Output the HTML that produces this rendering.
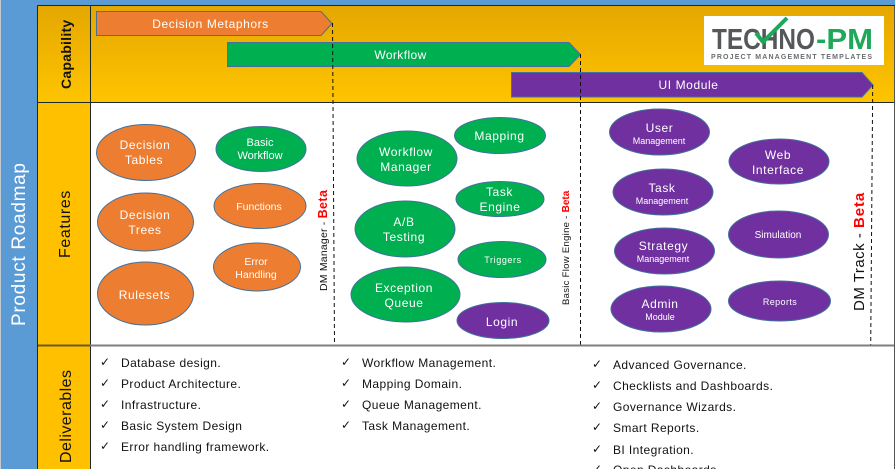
<!DOCTYPE html>
<html><head><meta charset="utf-8"><style>
html,body{margin:0;padding:0;background:#fff;width:895px;height:469px;overflow:hidden}
svg{display:block}
text{font-family:"Liberation Sans",sans-serif}
.w{fill:#fff;text-anchor:middle}
.e{stroke:#41719c;stroke-width:1}
.o{fill:#ed7d31}.g{fill:#00b050}.p{fill:#7030a0}
.l{font-size:12px;letter-spacing:.42px;fill:#111}
.c{font-size:12px;fill:#111}
.d{stroke:#111;stroke-width:1;stroke-dasharray:4 3;fill:none}
</style></head><body>
<svg width="895" height="469" viewBox="0 0 895 469" xmlns="http://www.w3.org/2000/svg">
<defs><linearGradient id="cap" x1="0" y1="0" x2="0" y2="1"><stop offset="0" stop-color="#e4a700"/><stop offset="1" stop-color="#ffc400"/></linearGradient></defs>
<rect width="895" height="469" fill="#fff"/>
<rect x="0" y="0" width="895" height="5" fill="#5b9bd5"/>
<rect x="1" y="0" width="36.500" height="469" fill="#5b9bd5"/>
<rect x="0" y="0" width="1" height="469" fill="#c0c8d0"/>
<rect x="38" y="6" width="857" height="97" fill="url(#cap)"/>
<rect x="38" y="103" width="52" height="366" fill="#ffc000"/>
<path d="M96.500 11.500H321L332 23.500L321 35.500H96.500Z" class="o e"/>
<path d="M227.500 42.500H569L580.500 54.500L569 66.500H227.500Z" class="g e"/>
<path d="M511.500 72.500H862L873 85L862 97H511.500Z" class="p e"/>
<path d="M332.500 23L334.500 343" class="d"/>
<path d="M580.500 54V345" class="d"/>
<path d="M872.700 85L870.700 345" class="d"/>
<path d="M37.500 5.500H895M37.500 5.500V469M90.500 5.500V469M37.500 102.500H895" stroke="#1e2a2a" stroke-width="1" fill="none"/>
<path d="M38 345.500H90" stroke="#6b5a20" stroke-width="2"/>
<path d="M90 345.500H895" stroke="#7f7f7f" stroke-width="2"/>
<path d="M894.500 6V469" stroke="#555" stroke-width="1"/>
<rect x="704" y="16" width="180" height="49" fill="#fff"/>
<text x="712" y="49" font-size="29" font-weight="bold" fill="#55585a" textLength="103" lengthAdjust="spacingAndGlyphs">TECHNO</text>
<text x="816" y="49" font-size="29" font-weight="bold" fill="#1fa85a" textLength="57" lengthAdjust="spacingAndGlyphs">-PM</text>
<text x="711" y="59" font-size="7" font-weight="bold" fill="#6a6d6f" textLength="161" lengthAdjust="spacing">PROJECT MANAGEMENT TEMPLATES</text>
<path d="M756 33L763 42L787 18" stroke="#1fa85a" stroke-width="4" fill="none"/>
<text class="w" x="210.500" y="28" font-size="12" letter-spacing=".58">Decision Metaphors</text>
<text class="w" x="400.500" y="59" font-size="12" letter-spacing=".4">Workflow</text>
<text class="w" x="688.500" y="89" font-size="12" letter-spacing=".6">UI Module</text>
<text transform="translate(71 89) rotate(-90)" font-size="14" font-weight="bold" fill="#111" letter-spacing=".25">Capability</text>
<text transform="translate(70 258) rotate(-90)" font-size="16" fill="#111" letter-spacing=".6">Features</text>
<text transform="translate(71 463) rotate(-90)" font-size="16" fill="#111" letter-spacing=".45">Deliverables</text>
<text transform="translate(25 326) rotate(-90)" font-size="19" fill="#fff" letter-spacing=".7">Product Roadmap</text>
<ellipse cx="146" cy="152.500" rx="49.500" ry="28" class="o e"/>
<text class="w" x="145" y="149" font-size="12" letter-spacing=".6">Decision</text><text class="w" x="144" y="164" font-size="12" letter-spacing=".6">Tables</text>
<ellipse cx="145.500" cy="222" rx="48" ry="29" class="o e"/>
<text class="w" x="145" y="219" font-size="12" letter-spacing=".6">Decision</text><text class="w" x="145" y="234" font-size="12" letter-spacing=".6">Trees</text>
<ellipse cx="145.500" cy="293.500" rx="48" ry="31.500" class="o e"/>
<text class="w" x="144.500" y="299" font-size="12" letter-spacing=".6">Rulesets</text>
<ellipse cx="261" cy="149" rx="45" ry="22.500" class="g e"/>
<text class="w" x="260" y="146" font-size="11">Basic</text><text class="w" x="260" y="159" font-size="11">Workflow</text>
<ellipse cx="260" cy="206" rx="46" ry="22.500" class="o e"/>
<text class="w" x="259" y="210" font-size="10.500">Functions</text>
<ellipse cx="257" cy="267" rx="43.500" ry="24" class="o e"/>
<text class="w" x="256" y="265" font-size="10.500">Error</text><text class="w" x="256" y="278" font-size="10.500">Handling</text>
<ellipse cx="407" cy="158.500" rx="50" ry="27.500" class="g e"/>
<text class="w" x="406" y="156" font-size="12" letter-spacing=".6">Workflow</text><text class="w" x="406" y="171" font-size="12" letter-spacing=".6">Manager</text>
<ellipse cx="405" cy="229" rx="50" ry="28" class="g e"/>
<text class="w" x="404" y="226" font-size="12" letter-spacing=".6">A/B</text><text class="w" x="404" y="241" font-size="12" letter-spacing=".6">Testing</text>
<ellipse cx="405.500" cy="294.500" rx="54.500" ry="27.500" class="g e"/>
<text class="w" x="404" y="292" font-size="12" letter-spacing=".6">Exception</text><text class="w" x="404" y="307" font-size="12" letter-spacing=".6">Queue</text>
<ellipse cx="500" cy="135.500" rx="45.500" ry="18" class="g e"/>
<text class="w" x="499.500" y="140" font-size="12" letter-spacing=".6">Mapping</text>
<ellipse cx="500" cy="199" rx="44" ry="17.500" class="g e"/>
<text class="w" x="499.500" y="196" font-size="12" letter-spacing=".6">Task</text><text class="w" x="500" y="211" font-size="12" letter-spacing=".6">Engine</text>
<ellipse cx="502" cy="259.500" rx="44" ry="18" class="g e"/>
<text class="w" x="503" y="263" font-size="9" letter-spacing=".6">Triggers</text>
<ellipse cx="503" cy="320.500" rx="46" ry="18" class="p e"/>
<text class="w" x="502" y="326" font-size="12" letter-spacing=".6">Login</text>
<ellipse cx="659.500" cy="132" rx="50" ry="23" class="p e"/>
<text class="w" x="659.500" y="132" font-size="12" letter-spacing=".6">User</text><text class="w" x="659" y="144" font-size="9">Management</text>
<ellipse cx="663" cy="192" rx="50" ry="23" class="p e"/>
<text class="w" x="662" y="192" font-size="12" letter-spacing=".6">Task</text><text class="w" x="662" y="204" font-size="9">Management</text>
<ellipse cx="664.500" cy="251" rx="50" ry="23" class="p e"/>
<text class="w" x="663.500" y="250" font-size="12" letter-spacing=".6">Strategy</text><text class="w" x="663" y="262" font-size="9">Management</text>
<ellipse cx="661" cy="309" rx="50" ry="23" class="p e"/>
<text class="w" x="660" y="308" font-size="12" letter-spacing=".6">Admin</text><text class="w" x="660" y="320" font-size="9">Module</text>
<ellipse cx="779" cy="161.500" rx="50" ry="22.500" class="p e"/>
<text class="w" x="778" y="159" font-size="12" letter-spacing=".6">Web</text><text class="w" x="778" y="174" font-size="12" letter-spacing=".6">Interface</text>
<ellipse cx="778.500" cy="234.500" rx="50" ry="23.500" class="p e"/>
<text class="w" x="778" y="238" font-size="10">Simulation</text>
<ellipse cx="779.500" cy="301" rx="51" ry="20" class="p e"/>
<text class="w" x="780" y="305" font-size="9" letter-spacing=".4">Reports</text>
<text transform="translate(327 291) rotate(-90)" font-size="10.500" fill="#111" letter-spacing=".2">DM Manager - <tspan fill="#f00" font-weight="bold" font-size="12.500" letter-spacing=".4">Beta</tspan></text>
<text transform="translate(569 305) rotate(-90)" font-size="9.500" fill="#111" letter-spacing=".3">Basic Flow Engine - <tspan fill="#f00" font-weight="bold" font-size="10" letter-spacing="0">Beta</tspan></text>
<text transform="translate(864 311) rotate(-90)" font-size="15" fill="#111" letter-spacing=".5">DM Track - <tspan fill="#f00" font-weight="bold" letter-spacing=".9">Beta</tspan></text>
<g class="c">
<text class="c" x="100" y="366">✓</text><text class="c" x="100" y="387">✓</text><text class="c" x="100" y="408">✓</text><text class="c" x="100" y="429">✓</text><text class="c" x="100" y="450">✓</text>
<text class="c" x="341" y="366">✓</text><text class="c" x="341" y="387">✓</text><text class="c" x="341" y="408">✓</text><text class="c" x="341" y="429">✓</text>
<text class="c" x="592" y="368">✓</text><text class="c" x="592" y="389">✓</text><text class="c" x="592" y="410">✓</text><text class="c" x="592" y="431">✓</text><text class="c" x="592" y="453">✓</text><text class="c" x="592" y="473">✓</text>
</g>
<text class="l" x="121" y="367">Database design.</text>
<text class="l" x="121" y="388">Product Architecture.</text>
<text class="l" x="121" y="409">Infrastructure.</text>
<text class="l" x="121" y="430">Basic System Design</text>
<text class="l" x="121" y="451">Error handling framework.</text>
<text class="l" x="362" y="367">Workflow Management.</text>
<text class="l" x="362" y="388">Mapping Domain.</text>
<text class="l" x="362" y="409">Queue Management.</text>
<text class="l" x="362" y="430">Task Management.</text>
<text class="l" x="613" y="369">Advanced Governance.</text>
<text class="l" x="613" y="390">Checklists and Dashboards.</text>
<text class="l" x="613" y="411">Governance Wizards.</text>
<text class="l" x="613" y="432">Smart Reports.</text>
<text class="l" x="613" y="454">BI Integration.</text>
<text class="l" x="613" y="474">Open Dashboards</text>
</svg>
</body></html>
